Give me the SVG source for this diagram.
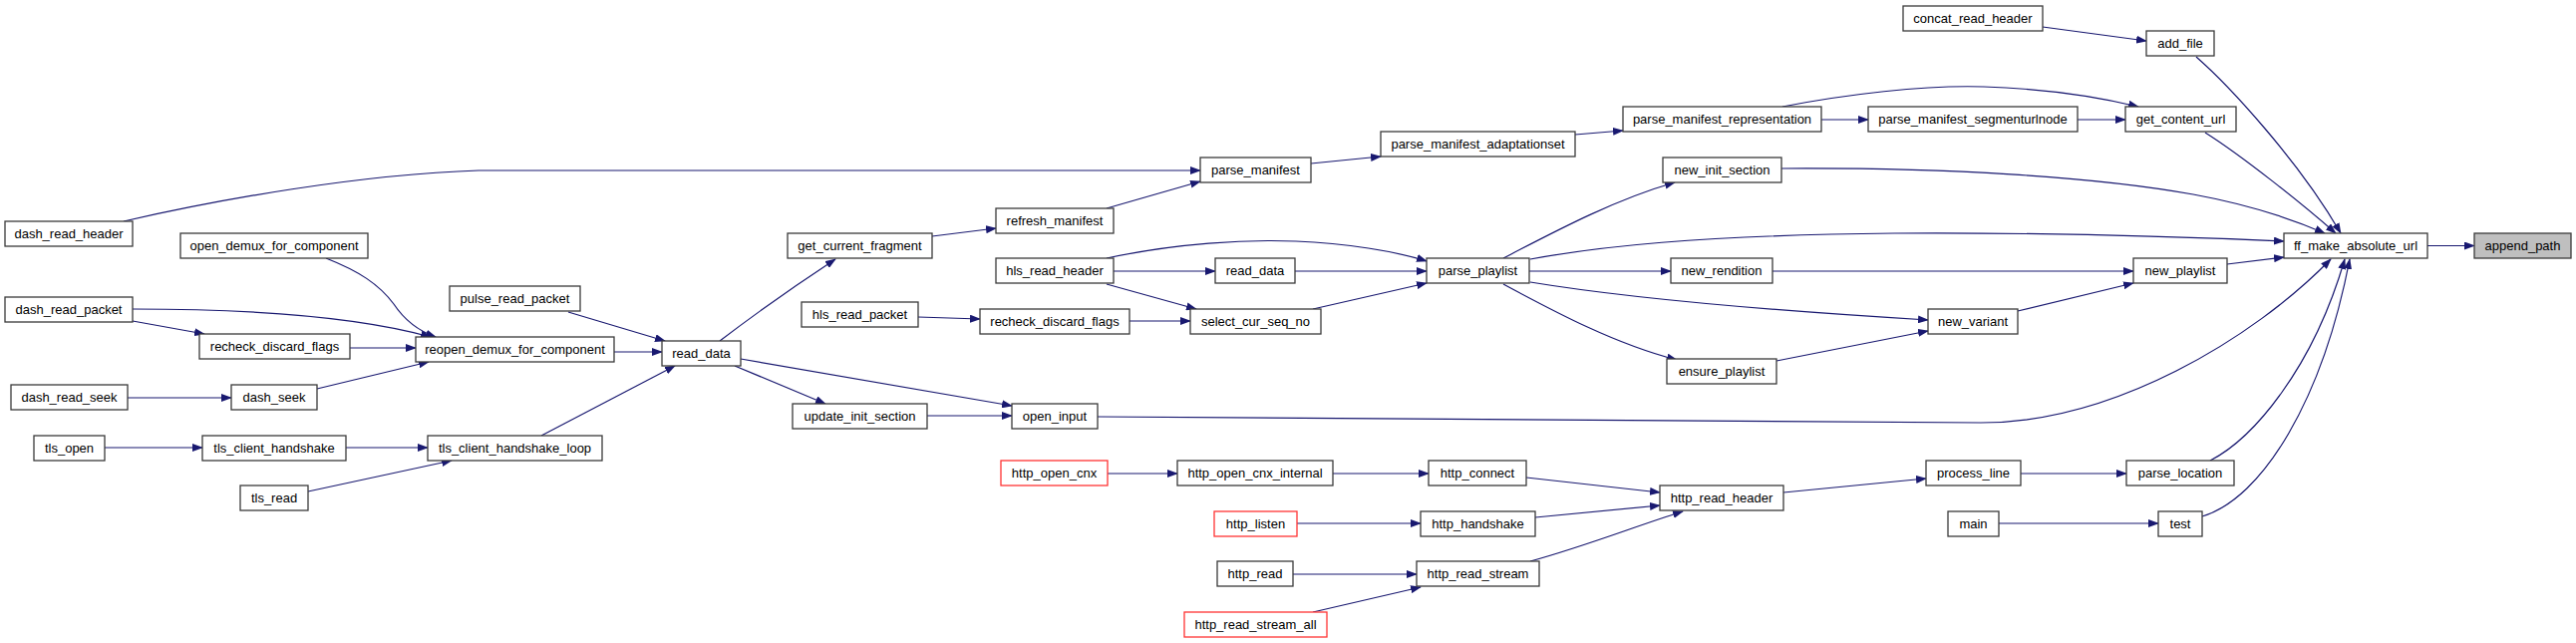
<svg xmlns="http://www.w3.org/2000/svg" width="2584" height="645" viewBox="0 0 2584 645">
<defs>
<marker id="ah" markerWidth="11" markerHeight="8" refX="10" refY="4" orient="auto" markerUnits="userSpaceOnUse"><path d="M0,0 L11,4 L0,8 z" fill="#191970"/></marker>
<style>
.n rect{fill:#ffffff;stroke:#3a3a3a;stroke-width:1.3}
.n.r rect{stroke:#ff3333}
.n.g rect{fill:#bfbfbf}
.n text{font-family:"Liberation Sans",Arial,sans-serif;font-size:13px;fill:#000;text-anchor:middle}
#edges path{fill:none;stroke:#191970;stroke-width:1.2;marker-end:url(#ah)}
</style>
</defs>
<rect width="2584" height="645" fill="#ffffff"/>
<g id="edges">
<path d="M2435,246.5 L2482,246.5"/>
<path d="M2203,57 C2235,85 2305,160 2348,234"/>
<path d="M2049,27 L2153,41"/>
<path d="M2212,133 C2250,157 2310,205 2343,234"/>
<path d="M1788,107 C1850,95 1930,85 1990,87 C2050,89 2100,96 2145,107"/>
<path d="M1827,120 L1874,120"/>
<path d="M2084,120 L2132,120"/>
<path d="M1580,135 L1628,131"/>
<path d="M1315,164 L1385,157"/>
<path d="M124,222 C220,200 360,175 480,171 L1204,171"/>
<path d="M1110,209 L1204,182"/>
<path d="M935,237 L999,229"/>
<path d="M722,342 C760,313 800,285 838,260"/>
<path d="M1787,169 C1950,168 2100,177 2200,195 C2260,206 2300,220 2332,234"/>
<path d="M1508,259 C1560,232 1620,200 1680,183"/>
<path d="M1535,260 C1600,248 1700,236 1900,234 C2050,233 2200,238 2291,242"/>
<path d="M1534,272 L1676,272"/>
<path d="M1535,283 C1620,297 1750,310 1934,321"/>
<path d="M1508,285 C1560,313 1620,345 1682,361"/>
<path d="M1778,272 L2140,272"/>
<path d="M2024,312 L2140,284"/>
<path d="M1782,362 L1934,332"/>
<path d="M2234,265 L2291,258"/>
<path d="M1110,259 C1180,244 1250,240 1300,242 C1350,244 1400,252 1431,262"/>
<path d="M1117,272 L1219,272"/>
<path d="M1110,285 L1200,310"/>
<path d="M1299,272 L1431,272"/>
<path d="M1317,310 L1431,284"/>
<path d="M921,318 L983,320"/>
<path d="M1133,322 L1194,322"/>
<path d="M1101,418 C1500,422 1850,424 1987,424 C2120,424 2260,340 2338,260"/>
<path d="M743,360 L1015,407"/>
<path d="M737,367 L828,405"/>
<path d="M930,417 L1015,417"/>
<path d="M570,313 L667,342"/>
<path d="M616,353 L664,353"/>
<path d="M543,437 L677,367"/>
<path d="M327,259 C360,272 380,285 395,305 C405,320 420,332 437,338"/>
<path d="M133,310 C250,310 360,318 432,338"/>
<path d="M133,322 L205,335"/>
<path d="M351,349 L417,349"/>
<path d="M318,390 L430,363"/>
<path d="M128,399 L232,399"/>
<path d="M105,449 L203,449"/>
<path d="M347,449 L429,449"/>
<path d="M309,493 L453,462"/>
<path d="M1111,475 L1181,475"/>
<path d="M1337,475 L1433,475"/>
<path d="M1531,479 L1665,494"/>
<path d="M1301,525 L1425,525"/>
<path d="M1540,519 L1665,507"/>
<path d="M1297,576 L1421,576"/>
<path d="M1317,614 L1425,589"/>
<path d="M1535,563 C1590,548 1640,528 1688,513"/>
<path d="M1789,494 L1932,480"/>
<path d="M2027,475 L2133,475"/>
<path d="M2005,525 L2165,525"/>
<path d="M2217,462 C2260,440 2320,370 2352,260"/>
<path d="M2209,518 C2270,500 2330,400 2357,260"/>
</g>
<g id="n_dash_read_header" class="n"><rect x="5" y="222" width="128" height="25"/><text x="69" y="239">dash_read_header</text></g>
<g id="n_open_demux_for_component" class="n"><rect x="181" y="234" width="188" height="25"/><text x="275" y="251">open_demux_for_component</text></g>
<g id="n_dash_read_packet" class="n"><rect x="5" y="298" width="128" height="25"/><text x="69" y="315">dash_read_packet</text></g>
<g id="n_recheck_discard_flags_1" class="n"><rect x="200" y="335" width="151" height="25"/><text x="275.5" y="352">recheck_discard_flags</text></g>
<g id="n_dash_read_seek" class="n"><rect x="11" y="386" width="117" height="25"/><text x="69.5" y="403">dash_read_seek</text></g>
<g id="n_dash_seek" class="n"><rect x="232" y="386" width="86" height="25"/><text x="275" y="403">dash_seek</text></g>
<g id="n_tls_open" class="n"><rect x="34" y="437" width="71" height="25"/><text x="69.5" y="454">tls_open</text></g>
<g id="n_tls_client_handshake" class="n"><rect x="203" y="437" width="144" height="25"/><text x="275" y="454">tls_client_handshake</text></g>
<g id="n_tls_read" class="n"><rect x="241" y="487" width="68" height="25"/><text x="275" y="504">tls_read</text></g>
<g id="n_reopen_demux_for_component" class="n"><rect x="417" y="338" width="199" height="25"/><text x="516.5" y="355">reopen_demux_for_component</text></g>
<g id="n_tls_client_handshake_loop" class="n"><rect x="429" y="437" width="175" height="25"/><text x="516.5" y="454">tls_client_handshake_loop</text></g>
<g id="n_pulse_read_packet" class="n"><rect x="451" y="287" width="131" height="25"/><text x="516.5" y="304">pulse_read_packet</text></g>
<g id="n_read_data_1" class="n"><rect x="664" y="342" width="79" height="25"/><text x="703.5" y="359">read_data</text></g>
<g id="n_get_current_fragment" class="n"><rect x="790" y="234" width="145" height="25"/><text x="862.5" y="251">get_current_fragment</text></g>
<g id="n_hls_read_packet" class="n"><rect x="804" y="303" width="117" height="25"/><text x="862.5" y="320">hls_read_packet</text></g>
<g id="n_update_init_section" class="n"><rect x="795" y="405" width="135" height="25"/><text x="862.5" y="422">update_init_section</text></g>
<g id="n_parse_manifest" class="n"><rect x="1204" y="158" width="111" height="25"/><text x="1259.5" y="175">parse_manifest</text></g>
<g id="n_refresh_manifest" class="n"><rect x="999" y="209" width="118" height="25"/><text x="1058" y="226">refresh_manifest</text></g>
<g id="n_hls_read_header" class="n"><rect x="999" y="259" width="118" height="25"/><text x="1058" y="276">hls_read_header</text></g>
<g id="n_read_data_2" class="n"><rect x="1219" y="259" width="80" height="25"/><text x="1259" y="276">read_data</text></g>
<g id="n_recheck_discard_flags_2" class="n"><rect x="983" y="310" width="150" height="25"/><text x="1058" y="327">recheck_discard_flags</text></g>
<g id="n_select_cur_seq_no" class="n"><rect x="1194" y="310" width="131" height="25"/><text x="1259.5" y="327">select_cur_seq_no</text></g>
<g id="n_open_input" class="n"><rect x="1015" y="405" width="86" height="25"/><text x="1058" y="422">open_input</text></g>
<g id="n_http_open_cnx" class="n r"><rect x="1004" y="462" width="107" height="25"/><text x="1057.5" y="479">http_open_cnx</text></g>
<g id="n_http_open_cnx_internal" class="n"><rect x="1181" y="462" width="156" height="25"/><text x="1259" y="479">http_open_cnx_internal</text></g>
<g id="n_http_listen" class="n r"><rect x="1218" y="513" width="83" height="25"/><text x="1259.5" y="530">http_listen</text></g>
<g id="n_http_read" class="n"><rect x="1221" y="563" width="76" height="25"/><text x="1259" y="580">http_read</text></g>
<g id="n_http_read_stream_all" class="n r"><rect x="1188" y="614" width="143" height="25"/><text x="1259.5" y="631">http_read_stream_all</text></g>
<g id="n_parse_manifest_adaptationset" class="n"><rect x="1385" y="132" width="195" height="25"/><text x="1482.5" y="149">parse_manifest_adaptationset</text></g>
<g id="n_parse_manifest_representation" class="n"><rect x="1628" y="107" width="199" height="25"/><text x="1727.5" y="124">parse_manifest_representation</text></g>
<g id="n_new_init_section" class="n"><rect x="1668" y="158" width="119" height="25"/><text x="1727.5" y="175">new_init_section</text></g>
<g id="n_parse_playlist" class="n"><rect x="1431" y="259" width="103" height="25"/><text x="1482.5" y="276">parse_playlist</text></g>
<g id="n_new_rendition" class="n"><rect x="1676" y="259" width="102" height="25"/><text x="1727" y="276">new_rendition</text></g>
<g id="n_ensure_playlist" class="n"><rect x="1672" y="360" width="110" height="25"/><text x="1727" y="377">ensure_playlist</text></g>
<g id="n_http_connect" class="n"><rect x="1433" y="462" width="98" height="25"/><text x="1482" y="479">http_connect</text></g>
<g id="n_http_handshake" class="n"><rect x="1425" y="513" width="115" height="25"/><text x="1482.5" y="530">http_handshake</text></g>
<g id="n_http_read_stream" class="n"><rect x="1421" y="563" width="123" height="25"/><text x="1482.5" y="580">http_read_stream</text></g>
<g id="n_http_read_header" class="n"><rect x="1665" y="487" width="124" height="25"/><text x="1727" y="504">http_read_header</text></g>
<g id="n_concat_read_header" class="n"><rect x="1909" y="6" width="140" height="25"/><text x="1979" y="23">concat_read_header</text></g>
<g id="n_add_file" class="n"><rect x="2153" y="31" width="68" height="25"/><text x="2187" y="48">add_file</text></g>
<g id="n_parse_manifest_segmenturlnode" class="n"><rect x="1874" y="107" width="210" height="25"/><text x="1979" y="124">parse_manifest_segmenturlnode</text></g>
<g id="n_get_content_url" class="n"><rect x="2132" y="107" width="111" height="25"/><text x="2187.5" y="124">get_content_url</text></g>
<g id="n_new_playlist" class="n"><rect x="2140" y="259" width="94" height="25"/><text x="2187" y="276">new_playlist</text></g>
<g id="n_new_variant" class="n"><rect x="1934" y="310" width="90" height="25"/><text x="1979" y="327">new_variant</text></g>
<g id="n_process_line" class="n"><rect x="1932" y="462" width="95" height="25"/><text x="1979.5" y="479">process_line</text></g>
<g id="n_parse_location" class="n"><rect x="2133" y="462" width="108" height="25"/><text x="2187" y="479">parse_location</text></g>
<g id="n_main" class="n"><rect x="1954" y="513" width="51" height="25"/><text x="1979.5" y="530">main</text></g>
<g id="n_test" class="n"><rect x="2165" y="513" width="44" height="25"/><text x="2187" y="530">test</text></g>
<g id="n_ff_make_absolute_url" class="n"><rect x="2291" y="234" width="144" height="25"/><text x="2363" y="251">ff_make_absolute_url</text></g>
<g id="n_append_path" class="n g"><rect x="2482" y="234" width="97" height="25"/><text x="2530.5" y="251">append_path</text></g>
</svg>
